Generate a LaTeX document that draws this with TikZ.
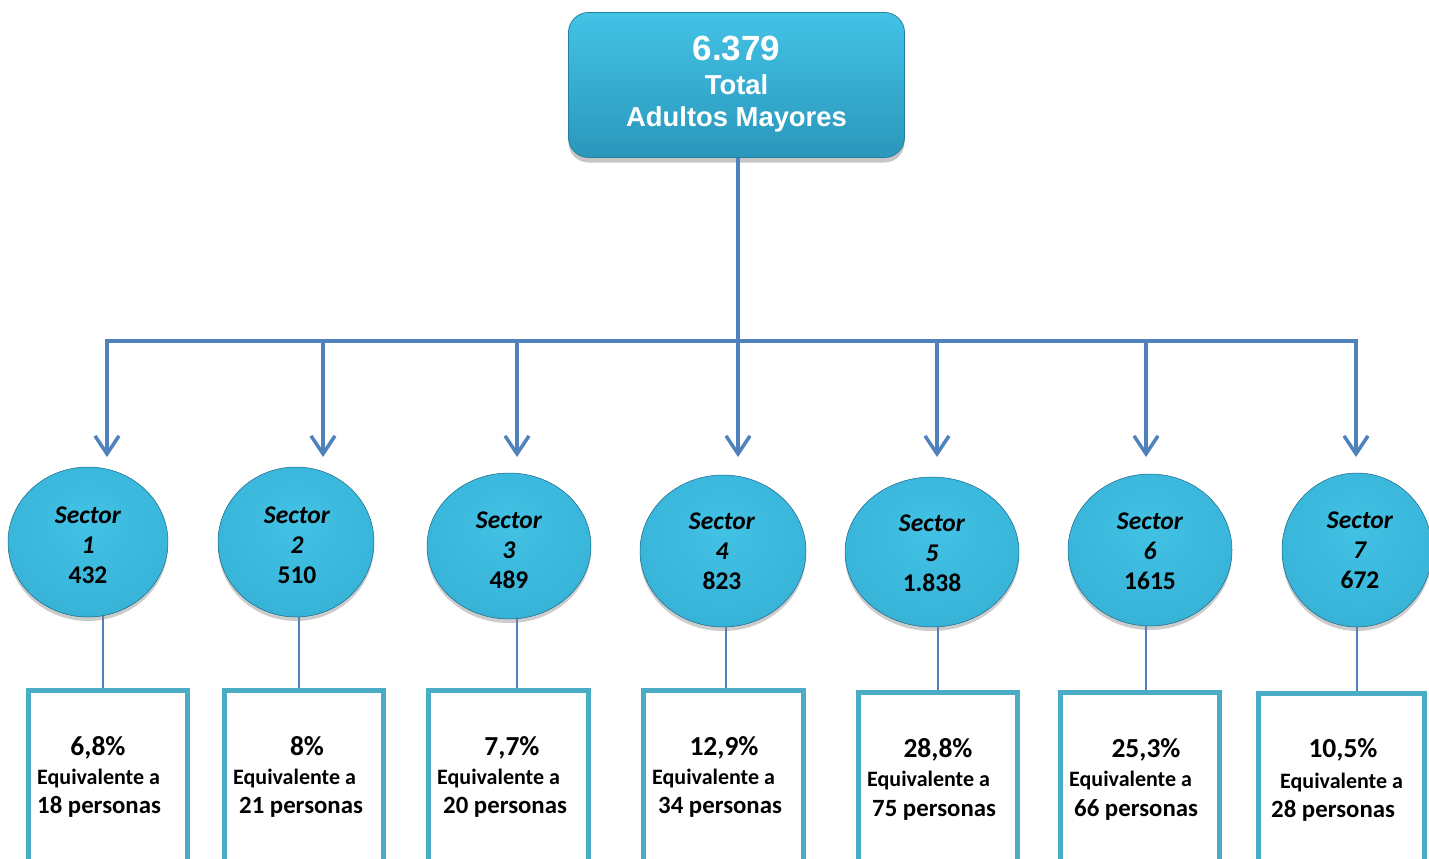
\documentclass[tikz,border=0pt]{standalone}
\usepackage{fontspec}
\setmainfont{Carlito}
\newfontfamily\arialf{Liberation Sans}
\usetikzlibrary{arrows.meta,shadows,shapes.geometric}
\definecolor{lineblue}{HTML}{4F81BD}
\definecolor{boxcyan}{HTML}{4BACC6}
\definecolor{topc}{HTML}{43C3E6}
\definecolor{botc}{HTML}{2A97BB}
\definecolor{ballin}{HTML}{42C2E5}
\definecolor{ballmid}{HTML}{38B4D9}
\definecolor{ballout}{HTML}{2480A6}
\pgfdeclareradialshading{bub}{\pgfpoint{0bp}{8bp}}{color(0bp)=(ballin); color(28bp)=(ballmid); color(44bp)=(botc); color(52bp)=(ballout); color(70bp)=(ballout)}
\begin{document}
\begin{tikzpicture}[x=1pt,y=-1pt,
  topbox/.style={rounded corners=20pt, top color=topc, bottom color=botc, draw=botc!85!black, line width=0.8pt,
    minimum width=336pt, minimum height=145pt, inner sep=0pt,
    drop shadow={opacity=0.45, shadow xshift=0pt, shadow yshift=-5pt}},
  toptxt/.style={text=white, font=\arialf\bfseries, anchor=base, inner sep=0pt},
  sect/.style={ellipse, shading=bub, draw=ballout!80!black, line width=0.5pt, inner sep=0pt,
    drop shadow={opacity=0.4, shadow xshift=0pt, shadow yshift=-4pt}},
  sectxt/.style={font=\fontsize{25.5}{30}\selectfont\bfseries, anchor=base, inner sep=0pt},
  valbox/.style={draw=boxcyan, line width=5pt, fill=white, minimum height=260pt, anchor=north, inner sep=0pt},
  pct/.style={font=\fontsize{27.5}{32}\selectfont\bfseries, anchor=base, inner sep=0pt},
  eqv/.style={font=\fontsize{22}{26}\selectfont\bfseries, anchor=base west, inner sep=0pt},
  pers/.style={font=\fontsize{24.8}{29}\selectfont\bfseries, anchor=base west, inner sep=0pt},
  link/.style={draw=lineblue, line width=1.5pt},
  conn/.style={draw=lineblue, line width=3.5pt},
  arr/.style={draw=lineblue, line width=3.5pt, -{Straight Barb[length=18pt,width=24pt]}}
]
\useasboundingbox (0,0) rectangle (1429,859);
\clip (0,0) rectangle (1429,859);

% value boxes
\foreach \i/\bx/\by/\bw in {1/108/687.5/159, 2/304/687.5/159, 3/508.5/687.5/160, 4/723.5/687.5/160,
    5/938/689.5/159, 6/1140/689.5/159, 7/1341.5/690.5/166}
  \node[valbox, minimum width=\bw] (b\i) at (\bx,\by) {};

% thin links circle -> box
\foreach \i/\lx in {1/103, 2/299, 3/517, 4/726, 5/938, 6/1146, 7/1357} {
  \coordinate (t\i) at (\lx,600);
  \draw[link] (t\i) -- (t\i |- b\i.north);
}

% sector circles
\foreach \i/\cx/\cy/\rx/\ry/\tx/\bs/\cnt in {1/88/542/80/75/88/523/432, 2/296/542/78/75/297/523/510,
    3/509/546/82/73/509/528/489, 4/723/551/83/76/722/529/823, 5/932/552/87/75/932/531/1.838,
    6/1150/550/82/76/1150/529/1615, 7/1357/550/75/77/1360/528/672} {
  \node[sect, minimum width=2*\rx, minimum height=2*\ry] (e\i) at (\cx,\cy) {};
  \node[sectxt] (s\i) at (\tx,\bs) {\textit{Sector}};
  \node[sectxt] (n\i) at (\tx,\bs+30) {\textit{\i}};
  \node[sectxt] (k\i) at (\tx,\bs+60) {\cnt};
}

% texts in value boxes
\foreach \i/\px/\pb/\ex/\eb/\qx/\qb/\p/\n in {
    1/98/755/37/784/37/813/{6,8\%}/18,
    2/307/755/233/784/239/813/{8\%}/21,
    3/512/755/437/784/443/813/{7,7\%}/20,
    4/724/755/652/784/658/813/{12,9\%}/34,
    5/938/757/867/786/872/816/{28,8\%}/75,
    6/1146/757/1069/786/1074/816/{25,3\%}/66,
    7/1343/757/1280/788/1271/817/{10,5\%}/28} {
  \node[pct] (p\i) at (\px,\pb) {\p};
  \node[eqv] (q\i) at (\ex,\eb) {Equivalente a};
  \node[pers] (r\i) at (\qx,\qb) {\n\ personas};
}

% top box
\node[topbox] (top) at (736.5,85) {};
\node[toptxt, font=\arialf\bfseries\fontsize{35}{40}\selectfont] (tt1) at (736.5,61) {6.379};
\node[toptxt, font=\arialf\bfseries\fontsize{27.4}{32}\selectfont] (tt2) at (736.5,94) {Total};
\node[toptxt, font=\arialf\bfseries\fontsize{27.4}{32}\selectfont] (tt3) at (736.5,126) {Adultos Mayores};

% connectors
\coordinate (hub) at (738,341);
\draw[conn] (top.south -| hub) -- (hub);
\foreach \i/\ax in {1/107, 2/323, 3/517, 4/738, 5/937, 6/1146, 7/1356} {
  \coordinate (j\i) at (\ax,341);
  \coordinate (a\i) at (\ax,457);
}
\draw[conn] ([xshift=-1.75pt]j1) -- ([xshift=1.75pt]j7);
\foreach \i in {1,...,7}
  \draw[arr] (j\i) -- (a\i);
\end{tikzpicture}
\end{document}
